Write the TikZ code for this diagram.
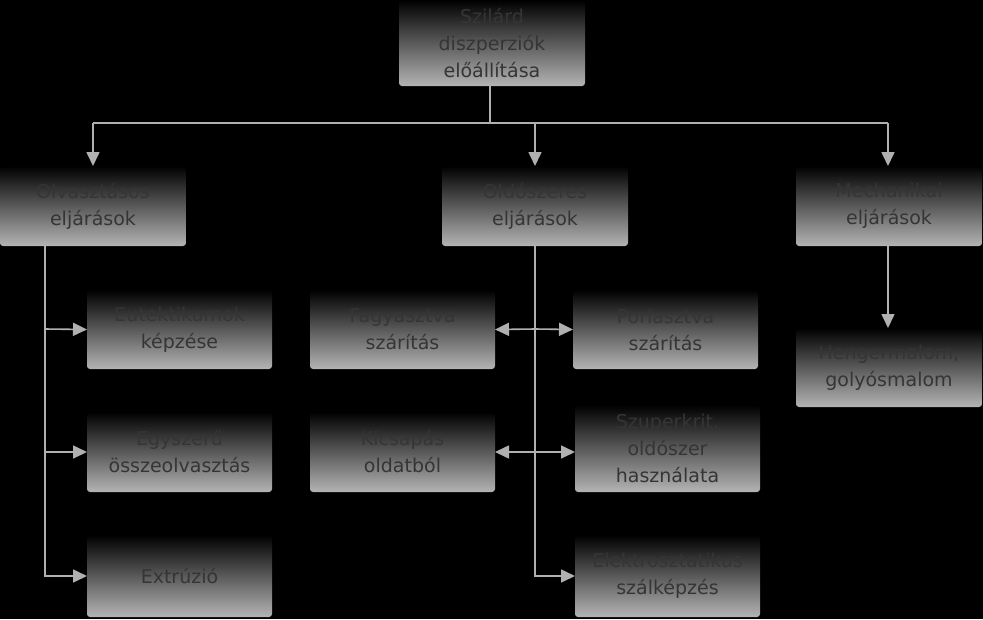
\documentclass[tikz,border=0pt]{standalone}
\usepackage{fontspec}
\setmainfont{DejaVu Sans}
\usetikzlibrary{arrows.meta}
\definecolor{boxbot}{HTML}{B4B4B4}
\definecolor{txt}{HTML}{353535}
\definecolor{ln}{HTML}{B0B0B0}
\begin{document}
\begin{tikzpicture}[x=1pt,y=-1pt,
  box/.style={rounded corners=3pt,top color=black,bottom color=boxbot,draw=none},
  lbl/.style={text=txt,font=\fontsize{19}{27}\selectfont,align=center},
  conn/.style={draw=ln,line width=1.6pt,-{Triangle[length=14pt,width=13pt]}},
  plain/.style={draw=ln,line width=1.6pt}]
\fill[black] (0,0) rectangle (983,619);
\useasboundingbox (0,0) rectangle (983,619);
\newcommand\bx[6]{\path[box] (#2,#3) rectangle (#4,#5);
  \node[lbl] (#1) at ({(#2+#4)/2},{(#3+#5)/2}) {#6};
  \coordinate (#1-n) at ({(#2+#4)/2},#3);
  \coordinate (#1-s) at ({(#2+#4)/2},#5);
  \coordinate (#1-w) at (#2,{(#3+#5)/2});
  \coordinate (#1-e) at (#4,{(#3+#5)/2});}
\bx{top}{399}{0}{585}{86}{Szilárd\\diszperziók\\előállítása}
\bx{olv}{0}{166}{186}{246}{Olvasztásos\\eljárások}
\bx{old}{442}{166}{628}{246}{Oldószeres\\eljárások}
\bx{mech}{796}{166}{982}{246}{Mechanikai\\eljárások}
\bx{eut}{87}{290}{272}{369}{Eutektikumok\\képzése}
\bx{egy}{87}{412}{272}{492}{Egyszerű\\összeolvasztás}
\bx{ext}{87}{535}{272}{617}{Extrúzió}
\bx{fagy}{310}{290}{495}{369}{Fagyasztva\\szárítás}
\bx{porl}{573}{290}{758}{369}{Porlasztva\\szárítás}
\bx{kics}{310}{412}{495}{492}{Kicsapás\\oldatból}
\bx{szup}{575}{405}{760}{492}{Szuperkrit.\\oldószer\\használata}
\bx{elek}{575}{535}{760}{617}{Elektrosztatikus\\szálképzés}
\bx{heng}{796}{328}{982}{407}{Hengermalom,\\golyósmalom}
\coordinate (j) at (490,123);
\coordinate (jl) at (93,123);
\coordinate (jm) at (535,123);
\coordinate (jr) at (888,123);
\draw[plain] (490,86) -- (j);
\draw[plain] (jl) -- (jr);
\draw[conn] (jl) -- (93,166);
\draw[conn] (jm) -- (535,166);
\draw[conn] (jr) -- (888,166);
\draw[plain] (45,246) -- (45,577);
\draw[conn] (45,329) -- (eut-w);
\draw[conn] (45,452) -- (egy-w);
\draw[conn] (45,576) -- (ext-w);
\draw[plain] (535,246) -- (535,577);
\draw[conn] (535,329) -- (porl-w);
\draw[conn] (535,329) -- (fagy-e);
\draw[conn] (535,452) -- (kics-e);
\draw[conn] (535,452) -- (575,452);
\draw[conn] (535,576) -- (elek-w);
\draw[conn] (888,246) -- (888,328);
\end{tikzpicture}
\end{document}
